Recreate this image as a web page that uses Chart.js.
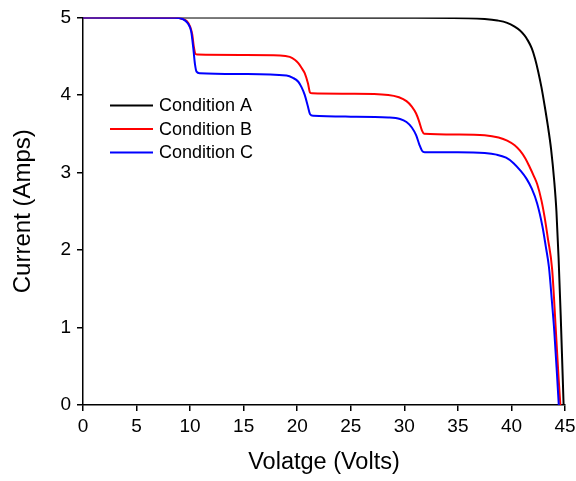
<!DOCTYPE html>
<html>
<head>
<meta charset="utf-8">
<script src="https://cdn.jsdelivr.net/npm/chart.js@4"></script>
<style>
  html, body { margin: 0; padding: 0; background: #fff; }
  #wrap { width: 576px; height: 481px; }
</style>
</head>
<body>
<div id="wrap"><canvas id="myChart"></canvas></div>
<script>
const seriesNames = ['Condition A', 'Condition B', 'Condition C']
const seriesColors = ['#000000', '#ff0000', '#0000ff']

// Condition A
const voltsA = [0, 30, 36, 37.5, 38.7, 39.6, 40.3, 40.8, 41.2, 41.5, 41.9, 42.2, 42.5, 42.8, 43.1, 43.4, 43.7, 44.0, 44.2, 44.4, 44.6, 44.87]
const ampsA = [5, 4.995, 4.99, 4.98, 4.96, 4.93, 4.88, 4.83, 4.77, 4.71, 4.6, 4.47, 4.3, 4.1, 3.86, 3.6, 3.3, 2.88, 2.5, 1.9, 1.15, 0]

// Condition B
const voltsB = [0, 8.5, 9.3, 9.7, 10.0, 10.2, 10.35, 10.5, 10.7, 15, 18.4, 19.3, 19.8, 20.1, 20.4, 20.7, 21.0, 21.2, 21.4, 25, 28.5, 29.5, 30.2, 30.7, 31.1, 31.4, 31.65, 31.85, 35, 37.5, 38.8, 39.6, 40.3, 40.8, 41.3, 41.7, 42.1, 42.4, 42.8, 43.1, 43.4, 43.8, 44.15, 44.4, 44.57]
const ampsB = [5, 4.995, 4.98, 4.95, 4.88, 4.78, 4.62, 4.53, 4.52, 4.515, 4.51, 4.49, 4.45, 4.41, 4.35, 4.28, 4.15, 4.03, 4.02, 4.015, 4.0, 3.97, 3.92, 3.85, 3.76, 3.65, 3.54, 3.5, 3.49, 3.48, 3.45, 3.41, 3.35, 3.28, 3.18, 3.07, 2.95, 2.85, 2.64, 2.42, 2.15, 1.75, 0.95, 0.35, 0]

// Condition C
const voltsC = [0, 8.5, 9.3, 9.8, 10.1, 10.3, 10.45, 10.6, 10.9, 15, 19, 19.6, 20.1, 20.4, 20.7, 21.0, 21.2, 21.5, 25, 28.5, 29.6, 30.2, 30.7, 31.1, 31.4, 31.65, 31.9, 35, 37.5, 38.6, 39.5, 40.2, 40.8, 41.4, 41.9, 42.4, 42.9, 43.2, 43.5, 43.8, 44.0, 44.25, 44.42]
const ampsC = [5, 4.995, 4.98, 4.92, 4.82, 4.6, 4.4, 4.3, 4.28, 4.27, 4.25, 4.22, 4.17, 4.1, 4.0, 3.85, 3.75, 3.73, 3.72, 3.71, 3.69, 3.65, 3.58, 3.48, 3.36, 3.28, 3.26, 3.26, 3.25, 3.23, 3.19, 3.12, 3.03, 2.92, 2.79, 2.6, 2.3, 2.05, 1.78, 1.3, 0.95, 0.4, 0]

const xTicks = [0, 5, 10, 15, 20, 25, 30, 35, 40, 45]
const yTicks = [0, 1, 2, 3, 4, 5]

const toPoints = (xs, ys) => xs.map((x, i) => ({ x: x, y: ys[i] }))

const font = '"Liberation Sans", Arial, sans-serif'

// legend drawn inside the plot area
const insideLegend = {
  id: 'insideLegend',
  afterDatasetsDraw(chart) {
    const { ctx, chartArea } = chart
    ctx.save()
    ctx.font = '18px ' + font
    ctx.textBaseline = 'middle'
    chart.data.datasets.forEach((ds, i) => {
      const y = chartArea.top + 88 + i * 23.5
      const x = chartArea.left + 27
      ctx.strokeStyle = ds.borderColor
      ctx.lineWidth = 2
      ctx.beginPath()
      ctx.moveTo(x, y)
      ctx.lineTo(x + 43, y)
      ctx.stroke()
      ctx.fillStyle = '#000'
      ctx.fillText(ds.label, x + 49, y + 1)
    })
    ctx.restore()
  }
}

const ctx = document.getElementById('myChart')

const data = {
  datasets: [
    { label: seriesNames[0], data: toPoints(voltsA, ampsA), order: 3 },
    { label: seriesNames[1], data: toPoints(voltsB, ampsB), order: 2 },
    { label: seriesNames[2], data: toPoints(voltsC, ampsC), order: 1 }
  ].map((ds, i) => Object.assign(ds, {
    borderColor: seriesColors[i],
    backgroundColor: seriesColors[i],
    borderWidth: 2,
    pointRadius: 0,
    fill: false,
    cubicInterpolationMode: 'monotone'
  }))
}

new Chart(ctx, {
  type: 'line',
  data,
  plugins: [insideLegend],
  options: {
    responsive: true,
    maintainAspectRatio: false,
    animation: false,
    layout: {
      padding: { top: 17, right: 11, left: 0, bottom: 0 }
    },
    plugins: {
      legend: { display: false },
      tooltip: { enabled: false }
    },
    scales: {
      x: {
        type: 'linear',
        min: 0,
        max: 45,
        afterBuildTicks: (scale) => { scale.ticks = xTicks.map(v => ({ value: v })) },
        afterFit: (scale) => {
          scale.height = 76
          scale.paddingLeft = 0
          scale.paddingRight = 0
        },
        border: { color: '#000', width: 1.5 },
        grid: { drawOnChartArea: false, color: '#000', tickLength: 6, lineWidth: 1.5 },
        ticks: { color: '#000', font: { family: font, size: 19 }, padding: 4, maxRotation: 0 },
        title: {
          display: true,
          text: 'Volatge (Volts)',
          color: '#000',
          font: { family: font, size: 23.5 },
          padding: { top: 0, bottom: 4 }
        }
      },
      y: {
        min: 0,
        max: 5,
        afterBuildTicks: (scale) => { scale.ticks = yTicks.map(v => ({ value: v })) },
        afterFit: (scale) => { scale.width = 83 },
        border: { color: '#000', width: 1.5 },
        grid: { drawOnChartArea: false, color: '#000', tickLength: 6, lineWidth: 1.5 },
        ticks: { color: '#000', font: { family: font, size: 19 }, padding: 6 },
        title: {
          display: true,
          text: 'Current (Amps)',
          color: '#000',
          font: { family: font, size: 24 },
          padding: { top: 9, bottom: 0 }
        }
      }
    }
  }
})
</script>
</body>
</html>
